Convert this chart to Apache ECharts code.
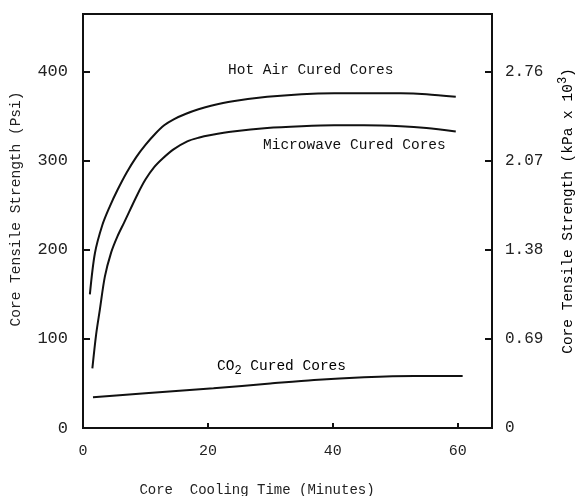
<!DOCTYPE html>
<html>
<head>
<meta charset="utf-8">
<style>
html,body{margin:0;padding:0;background:#fff;}
#c{width:575px;height:496px;}
</style>
<script src="https://cdn.jsdelivr.net/npm/echarts@6/dist/echarts.min.js"></script>
</head>
<body>
<div id="c"></div>
<script>
// Data
var hotAirTime = [1.1, 1.9, 3.1, 4.3, 5.5, 7, 8.5, 10, 11.5, 13, 14.6, 16.5, 18.5, 20.5, 24, 29.5, 35, 40.2, 45, 50.9, 55, 59.7];
var hotAirPsi  = [150, 196, 228, 249, 267, 287, 304, 318, 330, 340, 347, 353, 358, 362, 367, 372, 375, 376, 376, 376, 375, 372];
var microwaveTime = [1.5, 2.1, 2.7, 3.5, 4.5, 5.5, 6.6, 8.7, 10, 11.4, 12.8, 14.5, 16.7, 18.5, 20.5, 24, 29.5, 35, 40.2, 45, 50.9, 55, 59.7];
var microwavePsi  = [67, 105, 133, 170, 197, 215, 231, 262, 279, 293, 303, 313, 322, 326, 329, 333, 337, 339, 340, 340, 339, 337, 333];
var co2Time = [1.6, 10, 20.9, 30, 37, 45, 53, 60.8];
var co2Psi  = [34.5, 39, 44.6, 50, 54, 57, 58.4, 58.4];
var xTicks = [0, 20, 40, 60];
var psiTicks = [0, 100, 200, 300, 400];
var kpaLabels = ['0', '0.69', '1.38', '2.07', '2.76'];

function pairs(xs, ys){ return xs.map(function(x,i){ return [x, ys[i]]; }); }

var MONO = '"Liberation Mono", "DejaVu Sans Mono", monospace';
var chart = echarts.init(document.getElementById('c'));
var lineStyle = {color:'#111', width:2};

chart.setOption({
  backgroundColor:'#fff',
  animation:false,
  grid:{left:83, right:83, top:14, bottom:68, show:true, borderColor:'#111', borderWidth:2, backgroundColor:'transparent'},
  xAxis:{
    type:'value', min:0, max:65.5, interval:20,
    axisLine:{show:true, lineStyle:{color:'#111', width:2}},
    axisTick:{show:true, inside:true, length:5, lineStyle:{color:'#111', width:2}},
    splitLine:{show:false},
    axisLabel:{show:true, showMaxLabel:false, margin:16, color:'#222', fontFamily:MONO, fontSize:15,
      formatter:function(v){ return xTicks.indexOf(v) >= 0 ? String(v) : ''; }}
  },
  yAxis:[{
    type:'value', min:0, max:465, interval:100, position:'left',
    axisLine:{show:true, lineStyle:{color:'#111', width:2}},
    axisTick:{show:true, inside:true, length:7, lineStyle:{color:'#111', width:2}},
    splitLine:{show:false},
    axisLabel:{show:true, showMaxLabel:false, margin:15, color:'#222', fontFamily:MONO, fontSize:17,
      formatter:function(v){ return psiTicks.indexOf(v) >= 0 ? String(v) : ''; }}
  },{
    type:'value', min:0, max:465, interval:100, position:'right',
    axisLine:{show:true, lineStyle:{color:'#111', width:2}},
    axisTick:{show:true, inside:true, length:7, lineStyle:{color:'#111', width:2}},
    splitLine:{show:false},
    axisLabel:{show:true, showMaxLabel:false, margin:13, color:'#222', fontFamily:MONO, fontSize:16,
      formatter:function(v){ var i = psiTicks.indexOf(v); return i >= 0 ? kpaLabels[i] : ''; }}
  }],
  series:[
    {name:'Hot Air Cured Cores', type:'line', data:pairs(hotAirTime, hotAirPsi), smooth:0.3, showSymbol:false, lineStyle:lineStyle},
    {name:'Microwave Cured Cores', type:'line', data:pairs(microwaveTime, microwavePsi), smooth:0.3, showSymbol:false, lineStyle:lineStyle},
    {name:'CO2 Cured Cores', type:'line', data:pairs(co2Time, co2Psi), smooth:0.3, showSymbol:false, lineStyle:lineStyle}
  ],
  graphic:[
    {type:'text', left:228, top:63, style:{text:'Hot Air Cured Cores', font:'14.5px ' + MONO, fill:'#111'}},
    {type:'text', left:263, top:138, style:{text:'Microwave Cured Cores', font:'14.5px ' + MONO, fill:'#111'}},
    {type:'text', x:217, y:366, style:{
      text:'{a|CO}{s|2}{a| Cured Cores}', verticalAlign:'middle',
      rich:{a:{font:'14.5px ' + MONO, color:'#111'}, s:{font:'12px ' + MONO, color:'#111', padding:[9,0,0,0]}}
    }},
    {type:'text', x:257, y:490, style:{text:'Core  Cooling Time (Minutes)', font:'14px ' + MONO, fill:'#222', align:'center', verticalAlign:'middle'}},
    {type:'text', x:16, y:209, rotation:Math.PI/2, style:{text:'Core Tensile Strength (Psi)', font:'14.5px ' + MONO, fill:'#222', align:'center', verticalAlign:'middle'}},
    {type:'text', x:568, y:211, rotation:Math.PI/2, style:{
      text:'{a|Core Tensile Strength (kPa x 10}{s|3}{a|)}', align:'center', verticalAlign:'middle',
      rich:{a:{font:'14.5px ' + MONO, color:'#222'}, s:{font:'12px ' + MONO, color:'#222', padding:[0,0,11,0]}}
    }}
  ]
});
</script>
</body>
</html>
